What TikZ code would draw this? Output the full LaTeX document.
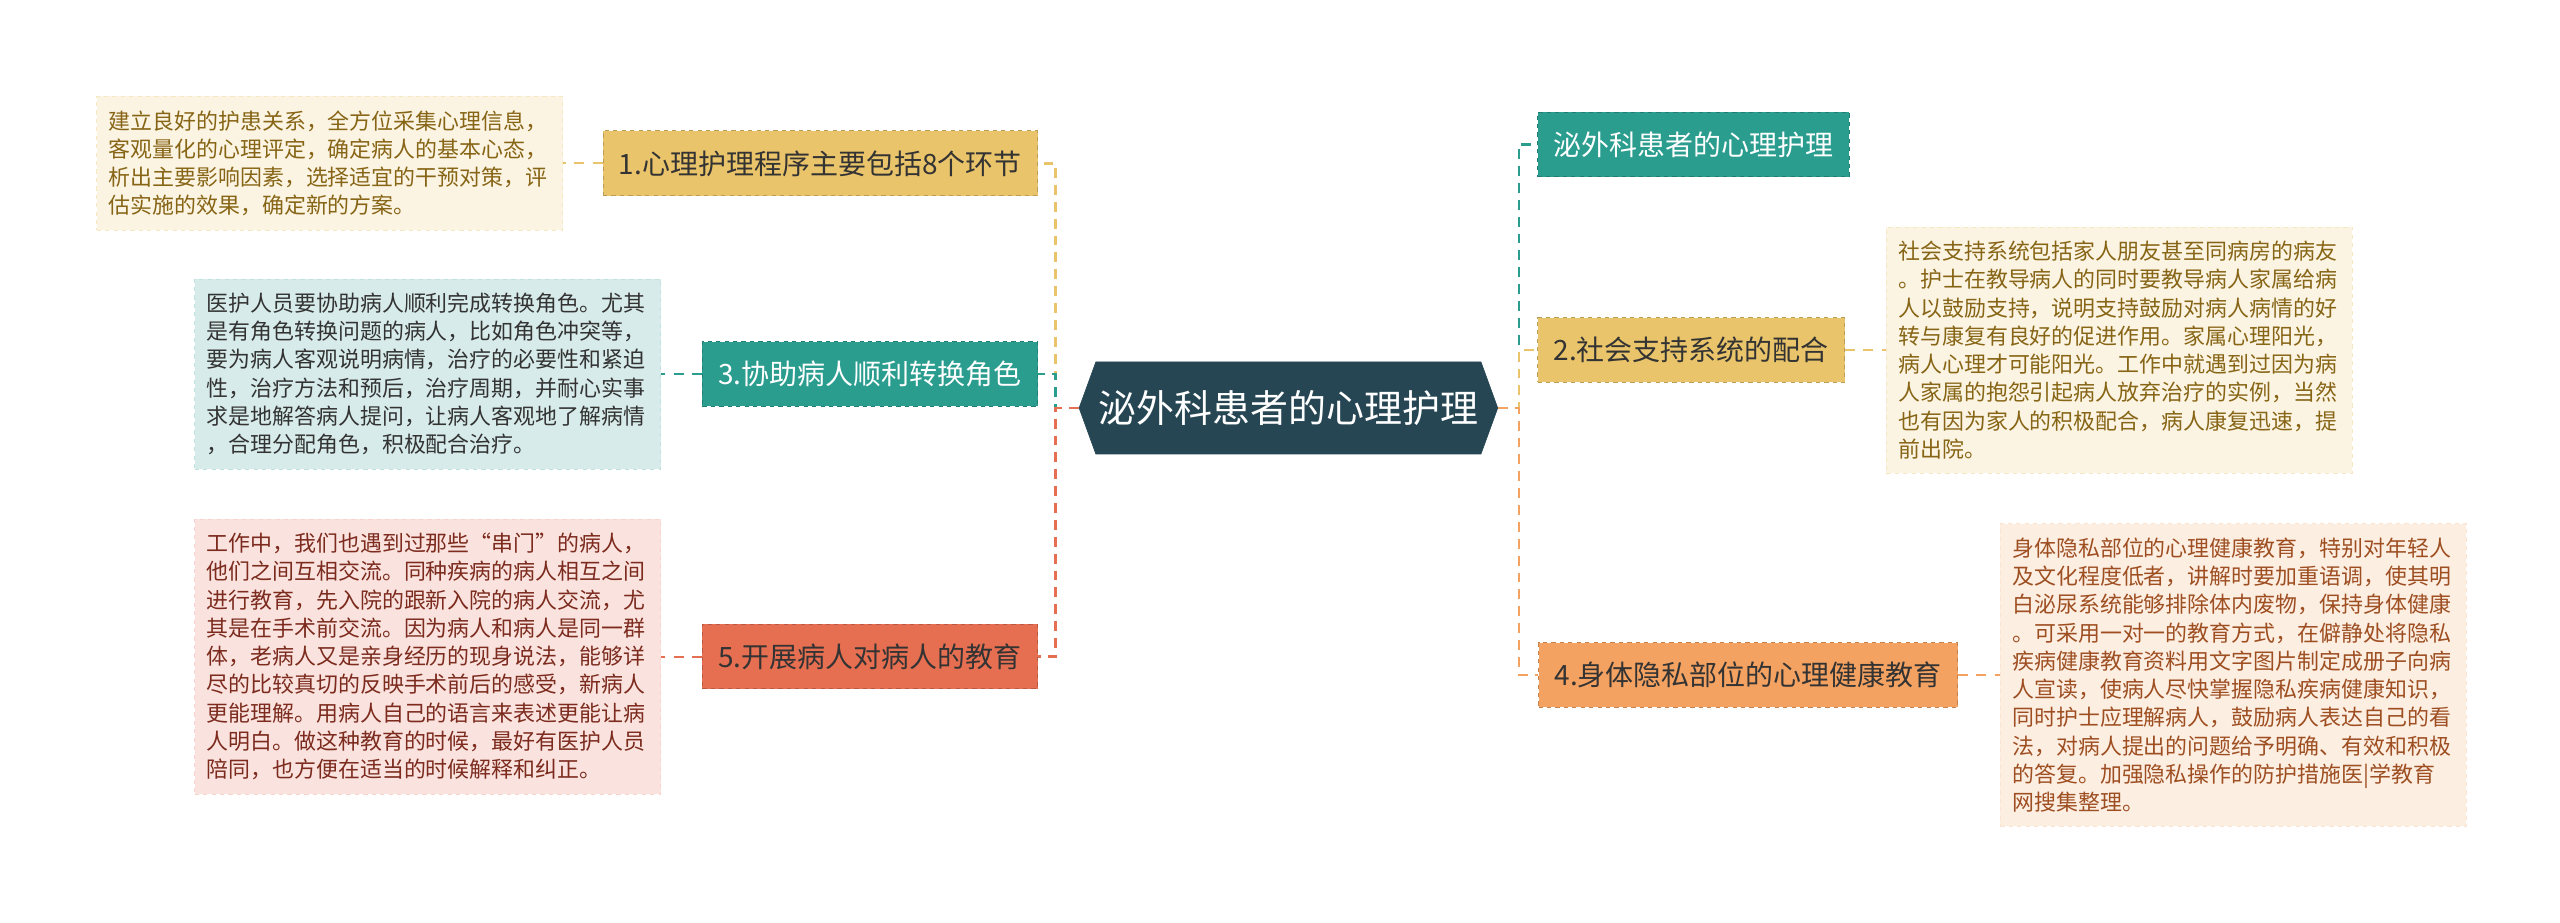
\documentclass[tikz,border=0pt]{standalone}
\usepackage{fontspec}
\setmainfont{Noto Sans CJK SC}
\usepackage{xcolor}
\usepackage{tikz}
\usetikzlibrary{
  positioning,
  shapes.symbols
}
\tikzset{
  root font/.style={font=\fontsize{27}{32}\selectfont},
  branch font/.style={font=\fontsize{19.9}{24}\selectfont},
  note font/.style={font=\fontsize{15.6}{20.1}\selectfont},
  root topic/.style={shape=signal,signal to=west and east,signal pointer angle=140,
    fill=topicnavy,draw=topicnavy,text=white,minimum height=2.3cm,
    minimum width=10.4cm,inner xsep=2pt,root font},
  branch/.style={rectangle,dashed,line width=.7pt,minimum height=1.62cm,
    inner xsep=.4cm,branch font},
  note card/.style={rectangle,dashed,line width=.5pt,text width=11.05cm,
    align=left,inner xsep=.3cm,inner ysep=.35cm,note font},
  branch link/.style={dash pattern=on 7pt off 5pt,line width=1.9pt},
  note link/.style={dash pattern=on 7pt off 6pt,line width=1.5pt}
}
\definecolor{topicnavy}{HTML}{264653}
\definecolor{mapteal}{HTML}{2A9D8F}
\definecolor{mapgold}{HTML}{E9C46A}
\definecolor{maporange}{HTML}{F4A261}
\definecolor{mapcoral}{HTML}{E76F51}
\definecolor{darkink}{HTML}{333333}
\definecolor{goldnote}{HTML}{FCF4E2}
\definecolor{goldink}{HTML}{876516}
\definecolor{tealnote}{HTML}{D7ECEA}
\definecolor{coralnote}{HTML}{FAE3DE}
\definecolor{coralink}{HTML}{7C2B1E}
\definecolor{orangenote}{HTML}{FDEEE2}
\definecolor{orangeink}{HTML}{9E4F22}

\begin{document}
\begin{tikzpicture}[x=1cm,y=1cm]
  \fill[white] (0,0) rectangle (64,23.075);
  \useasboundingbox (0,0) rectangle (64,23.075);

  \node[root topic] (root) at (32.21,12.875) {泌外科患者的心理护理};

  % left side
  \node[branch,anchor=east,fill=mapgold,draw=mapgold!80!black,text=darkink] (b1)
    at (25.95,18.99) {1.心理护理程序主要包括8个环节};
  \node[branch,anchor=east,fill=mapteal,draw=mapteal!80!black,text=white] (b3)
    at (25.95,13.725) {3.协助病人顺利转换角色};
  \node[branch,anchor=east,fill=mapcoral,draw=mapcoral!80!black,text=darkink] (b5)
    at (25.95,6.66) {5.开展病人对病人的教育};

  \node[note card,anchor=east,fill=goldnote,draw=mapgold!40,text=goldink] (n1)
    at (14.075,18.99)
    {建立良好的护患关系，全方位采集心理信息，\\
     客观量化的心理评定，确定病人的基本心态，\\
     析出主要影响因素，选择适宜的干预对策，评\\
     估实施的效果，确定新的方案。};
  \node[note card,anchor=east,fill=tealnote,draw=mapteal!30,text=darkink] (n3)
    at (16.525,13.725)
    {医护人员要协助病人顺利完成转换角色。尤其\\
     是有角色转换问题的病人，比如角色冲突等，\\
     要为病人客观说明病情，治疗的必要性和紧迫\\
     性，治疗方法和预后，治疗周期，并耐心实事\\
     求是地解答病人提问，让病人客观地了解病情\\
     ，合理分配角色，积极配合治疗。};
  \node[note card,anchor=east,fill=coralnote,draw=mapcoral!30,text=coralink] (n5)
    at (16.525,6.66)
    {工作中，我们也遇到过那些“串门”的病人，\\
     他们之间互相交流。同种疾病的病人相互之间\\
     进行教育，先入院的跟新入院的病人交流，尤\\
     其是在手术前交流。因为病人和病人是同一群\\
     体，老病人又是亲身经历的现身说法，能够详\\
     尽的比较真切的反映手术前后的感受，新病人\\
     更能理解。用病人自己的语言来表述更能让病\\
     人明白。做这种教育的时候，最好有医护人员\\
     陪同，也方便在适当的时候解释和纠正。};

  % right side
  \node[branch,anchor=west,fill=mapteal,draw=mapteal!80!black,text=white] (t0)
    at (38.425,19.46) {泌外科患者的心理护理};
  \node[branch,anchor=west,fill=mapgold,draw=mapgold!80!black,text=darkink] (b2)
    at (38.425,14.325) {2.社会支持系统的配合};
  \node[branch,anchor=west,fill=maporange,draw=maporange!80!black,text=darkink] (b4)
    at (38.45,6.2) {4.身体隐私部位的心理健康教育};

  \node[note card,anchor=west,fill=goldnote,draw=mapgold!40,text=goldink] (n2)
    at (47.15,14.325)
    {社会支持系统包括家人朋友甚至同病房的病友\\
     。护士在教导病人的同时要教导病人家属给病\\
     人以鼓励支持，说明支持鼓励对病人病情的好\\
     转与康复有良好的促进作用。家属心理阳光，\\
     病人心理才可能阳光。工作中就遇到过因为病\\
     人家属的抱怨引起病人放弃治疗的实例，当然\\
     也有因为家人的积极配合，病人康复迅速，提\\
     前出院。};
  \node[note card,anchor=west,fill=orangenote,draw=maporange!30,text=orangeink] (n4)
    at (50.0,6.2)
    {身体隐私部位的心理健康教育，特别对年轻人\\
     及文化程度低者，讲解时要加重语调，使其明\\
     白泌尿系统能够排除体内废物，保持身体健康\\
     。可采用一对一的教育方式，在僻静处将隐私\\
     疾病健康教育资料用文字图片制定成册子向病\\
     人宣读，使病人尽快掌握隐私疾病健康知识，\\
     同时护士应理解病人，鼓励病人表达自己的看\\
     法，对病人提出的问题给予明确、有效和积极\\
     的答复。加强隐私操作的防护措施医|学教育\\
     网搜集整理。};

  \draw[branch link,draw=mapgold] (root.west) -- ++(-.575,0) |- (b1.east);
  \draw[branch link,draw=mapteal] (root.west) -- ++(-.575,0) |- (b3.east);
  \draw[branch link,draw=mapcoral] (root.west) -- ++(-.575,0) |- (b5.east);
  \draw[branch link,draw=mapteal] (root.east) -- ++(.525,0) |- (t0.west);
  \draw[branch link,draw=mapgold] (root.east) -- ++(.525,0) |- (b2.west);
  \draw[branch link,draw=maporange] (root.east) -- ++(.525,0) |- (b4.west);

  \draw[note link,draw=mapgold] (b1.west) -- (n1.east);
  \draw[note link,draw=mapteal] (b3.west) -- (n3.east);
  \draw[note link,draw=mapcoral] (b5.west) -- (n5.east);
  \draw[note link,draw=mapgold] (b2.east) -- (n2.west);
  \draw[note link,draw=maporange] (b4.east) -- (n4.west);
\end{tikzpicture}
\end{document}
